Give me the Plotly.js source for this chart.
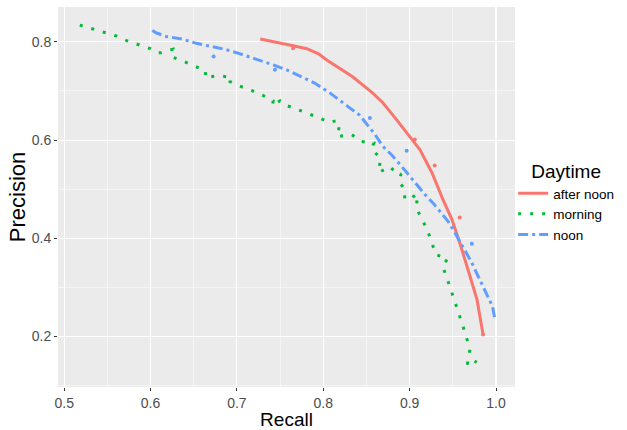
<!DOCTYPE html>
<html>
<head>
<meta charset="utf-8">
<script src="https://cdn.plot.ly/plotly-3.0.1.min.js"></script>
<style>html,body{margin:0;padding:0;background:#fff;}#chart{width:627px;height:430px;}</style>
</head>
<body>
<div id="chart"></div>
<script>
// Series names
const seriesNames = ["after noon", "morning", "noon"];

// after noon (recall, precision) — main curve
const afternoonRecall = [0.727, 0.745, 0.765, 0.781, 0.795, 0.804, 0.816, 0.834, 0.857, 0.869, 0.885, 0.898, 0.912, 0.926, 0.9385, 0.949, 0.958, 0.970, 0.978, 0.985];
const afternoonPrecision = [0.806, 0.800, 0.792, 0.786, 0.775, 0.763, 0.749, 0.729, 0.696, 0.676, 0.641, 0.611, 0.580, 0.533, 0.479, 0.438, 0.391, 0.322, 0.275, 0.204];
// after noon — off-curve points
const afternoonExtraRecall = [0.765, 0.906, 0.929, 0.958, 0.985];
const afternoonExtraPrecision = [0.787, 0.601, 0.548, 0.442, 0.204];

// morning (recall, precision)
const morningRecall = [0.518, 0.533, 0.547, 0.5605, 0.573, 0.586, 0.600, 0.6075, 0.6126, 0.626, 0.6254, 0.6385, 0.651, 0.664, 0.663, 0.6775, 0.6937, 0.692, 0.703, 0.717, 0.730, 0.742, 0.741, 0.750, 0.755, 0.768, 0.781, 0.794, 0.807, 0.8166, 0.818, 0.8166, 0.833, 0.844, 0.8586, 0.856, 0.866, 0.8645, 0.877, 0.8868, 0.890, 0.888, 0.8934, 0.8945, 0.902, 0.9088, 0.908, 0.915, 0.921, 0.926, 0.930, 0.944, 0.938, 0.943, 0.9475, 0.9517, 0.9568, 0.9614, 0.9652, 0.970, 0.9668, 0.9737, 0.9776];
const morningPrecision = [0.834, 0.826, 0.818, 0.812, 0.802, 0.795, 0.786, 0.778, 0.778, 0.785, 0.769, 0.760, 0.751, 0.741, 0.727, 0.731, 0.728, 0.719, 0.710, 0.701, 0.691, 0.680, 0.670, 0.680, 0.672, 0.664, 0.655, 0.646, 0.636, 0.640, 0.624, 0.607, 0.611, 0.597, 0.594, 0.582, 0.563, 0.534, 0.546, 0.529, 0.531, 0.514, 0.502, 0.479, 0.482, 0.490, 0.460, 0.437, 0.414, 0.390, 0.367, 0.358, 0.344, 0.320, 0.297, 0.272, 0.248, 0.223, 0.200, 0.175, 0.143, 0.152, 0.147];

// noon (recall, precision) — main curve
const noonRecall = [0.602, 0.607, 0.618, 0.636, 0.653, 0.672, 0.688, 0.703, 0.719, 0.742, 0.7575, 0.773, 0.790, 0.8076, 0.819, 0.831, 0.842, 0.852, 0.860, 0.869, 0.879, 0.889, 0.900, 0.910, 0.9197, 0.927, 0.935, 0.9447, 0.9525, 0.958, 0.966, 0.972, 0.9795, 0.985, 0.991, 0.996, 0.9986];
const noonPrecision = [0.823, 0.818, 0.811, 0.806, 0.797, 0.790, 0.784, 0.776, 0.767, 0.753, 0.743, 0.730, 0.716, 0.696, 0.680, 0.665, 0.651, 0.628, 0.611, 0.587, 0.570, 0.550, 0.526, 0.506, 0.485, 0.472, 0.455, 0.434, 0.411, 0.394, 0.370, 0.350, 0.322, 0.302, 0.282, 0.261, 0.236];
// noon — off-curve points
const noonExtraRecall = [0.673, 0.744, 0.854, 0.8965, 0.972];
const noonExtraPrecision = [0.770, 0.743, 0.645, 0.578, 0.389];

const xTickVals = [0.5, 0.6, 0.7, 0.8, 0.9, 1.0];
const xTickText = ["0.5", "0.6", "0.7", "0.8", "0.9", "1.0"];
const yTickVals = [0.2, 0.4, 0.6, 0.8];
const yTickText = ["0.2", "0.4", "0.6", "0.8"];

const FONT = "Liberation Sans, Arial, sans-serif";
const RED = "#F8766D", GREEN = "#00BA38", BLUE = "#619CFF";

const traces = [
  {x: afternoonRecall, y: afternoonPrecision, name: seriesNames[0], mode: "lines",
   line: {color: RED, width: 3, dash: "solid"}, legendgroup: "a"},
  {x: morningRecall, y: morningPrecision, name: seriesNames[1], mode: "lines",
   line: {color: GREEN, width: 3, dash: "3px,9px"}, legendgroup: "m"},
  {x: noonRecall, y: noonPrecision, name: seriesNames[2], mode: "lines",
   line: {color: BLUE, width: 3, dash: "10px,4px,3px,4px"}, legendgroup: "n"},
  {x: afternoonExtraRecall, y: afternoonExtraPrecision, mode: "markers", showlegend: false,
   marker: {color: RED, size: 4}, legendgroup: "a"},
  {x: noonExtraRecall, y: noonExtraPrecision, mode: "markers", showlegend: false,
   marker: {color: BLUE, size: 4}, legendgroup: "n"}
];

const layout = {
  width: 627, height: 430,
  margin: {l: 58, r: 112, t: 7, b: 43, autoexpand: false},
  paper_bgcolor: "#ffffff",
  plot_bgcolor: "#EBEBEB",
  font: {family: FONT, color: "#000"},
  xaxis: {
    range: [0.4928, 1.022],
    tickvals: xTickVals, ticktext: xTickText,
    showgrid: true, gridcolor: "#ffffff", gridwidth: 1.1,
    minor: {dtick: 0.05, tick0: 0.45, showgrid: true, gridcolor: "#ffffff", gridwidth: 0.5, ticks: ""},
    zeroline: false, showline: false,
    ticks: "outside", ticklen: 3, tickcolor: "#333333", tickwidth: 1,
    tickfont: {family: FONT, size: 14, color: "#4D4D4D"},
    automargin: true,
    title: {text: "Recall", font: {family: FONT, size: 19, color: "#000"}, standoff: 3}
  },
  yaxis: {
    range: [0.097, 0.871],
    tickvals: yTickVals, ticktext: yTickText,
    showgrid: true, gridcolor: "#ffffff", gridwidth: 1.1,
    minor: {dtick: 0.1, tick0: 0.1, showgrid: true, gridcolor: "#ffffff", gridwidth: 0.5, ticks: ""},
    zeroline: false, showline: false,
    ticks: "outside", ticklen: 3, tickcolor: "#333333", tickwidth: 1,
    tickfont: {family: FONT, size: 14, color: "#4D4D4D"},
    automargin: true,
    title: {text: "Precision", font: {family: FONT, size: 22, color: "#000"}, standoff: 0}
  },
  showlegend: true,
  legend: {
    x: 0.996, xanchor: "left", y: 0.615, yanchor: "top",
    bgcolor: "rgba(0,0,0,0)", borderwidth: 0,
    font: {family: FONT, size: 13.5, color: "#000"},
    title: {text: "Daytime", side: "top center", font: {family: FONT, size: 19, color: "#000"}},
    itemwidth: 30, tracegroupgap: 0
  }
};

Plotly.newPlot("chart", traces, layout, {displayModeBar: false, staticPlot: true});
</script>
</body>
</html>
